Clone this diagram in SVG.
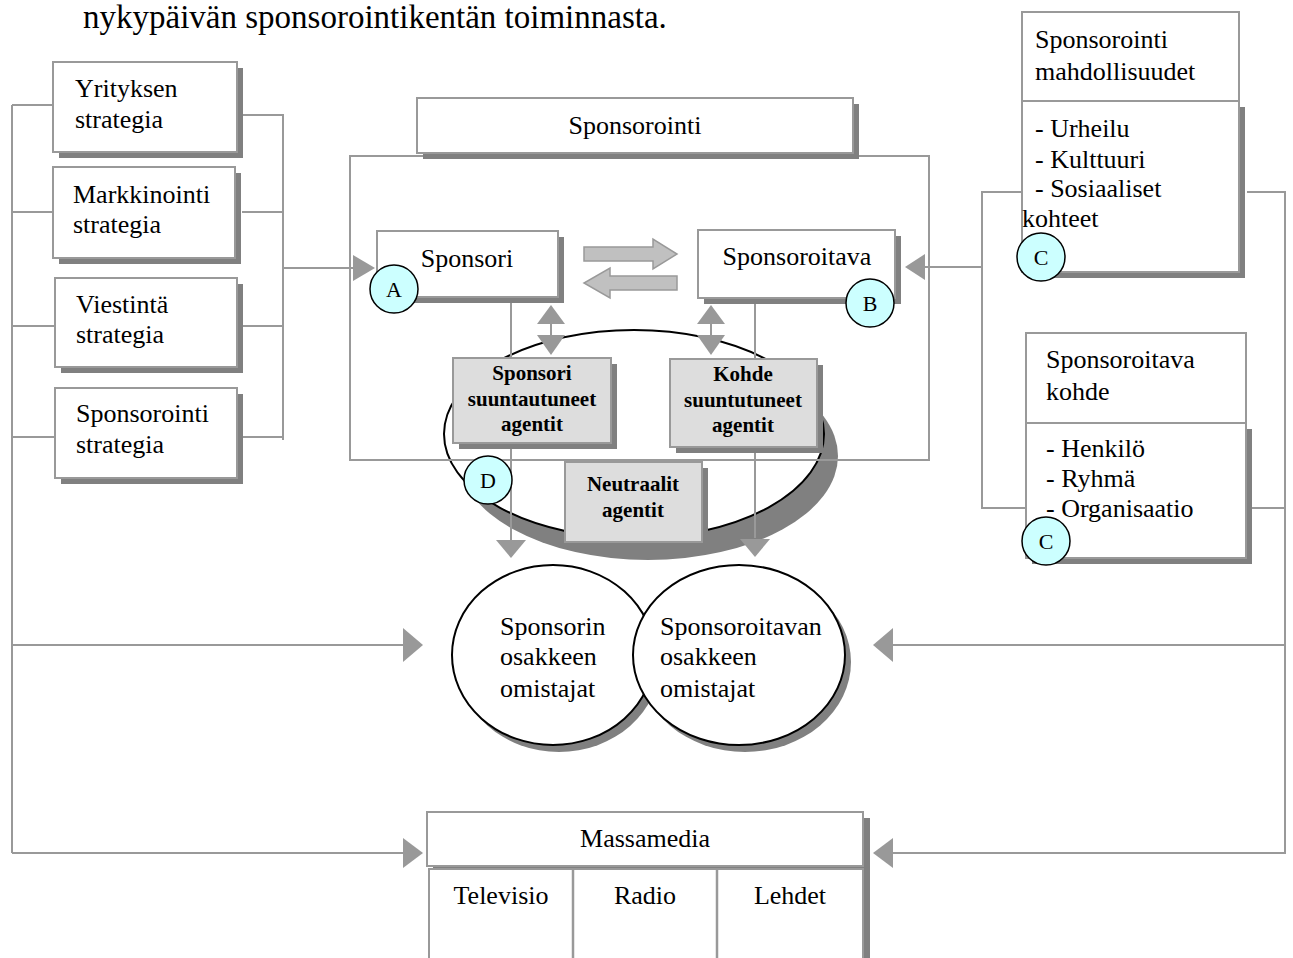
<svg xmlns="http://www.w3.org/2000/svg" width="1293" height="958" viewBox="0 0 1293 958">
<defs>
<style>
.t{font-family:"Liberation Serif","Times New Roman",serif;font-size:26px;fill:#000}
.m{text-anchor:middle}
.bd{font-family:"Liberation Serif","Times New Roman",serif;font-size:21px;font-weight:bold;text-anchor:middle;fill:#000}
.lt{font-family:"Liberation Serif","Times New Roman",serif;font-size:22px;text-anchor:middle;fill:#000}
.box{fill:#fff;stroke:#999;stroke-width:2}
.frame{fill:none;stroke:#999;stroke-width:2}
.sh{fill:#808080}
.ln{fill:none;stroke:#999;stroke-width:2}
.ah{fill:#999}
.blk{fill:#c0c0c0;stroke:#999;stroke-width:1.5}
.tag{fill:#ccffff;stroke:#000;stroke-width:1.5}
.agent{fill:#ddd;stroke:#999;stroke-width:2}
.ov{fill:#fff;stroke:#000;stroke-width:2}
.div{stroke:#999;stroke-width:2.5}
</style>
</defs>
<rect width="1293" height="958" fill="#fff"/>

<!-- running text above the figure -->
<text class="t" x="83" y="28" style="font-size:33px">nykypäivän sponsorointikentän toiminnasta.</text>

<!-- agents ellipse (drawn under the frame) -->
<g id="agents-ellipse">
  <ellipse class="sh" cx="648" cy="456" rx="190" ry="104"/>
  <ellipse class="ov" cx="634" cy="434" rx="190" ry="104"/>
</g>

<!-- Sponsorointi frame -->
<g id="sponsorointi">
  <rect class="frame" x="350" y="156" width="579" height="304"/>
  <rect class="sh" x="423" y="104" width="436" height="55"/>
  <rect class="box" x="417" y="98" width="436" height="55"/>
  <text class="t m" x="635" y="134">Sponsorointi</text>
</g>

<!-- connectors -->
<g id="connectors">
  <path class="ln" d="M12 105V853M12 105H53M12 212H53M12 326H55M12 437H55M12 645H403M12 853H403"/>
  <path class="ln" d="M242 115H283V440M242 212H283M242 326H283M242 437H283M283 268H353"/>
  <path class="ln" d="M1022 192H982V508H1026M982 267H925"/>
  <path class="ln" d="M1247 192H1285V853H893M1252 508H1285M1285 645H893"/>
  <path class="ln" d="M511 297V540M755 298V538M551 320V340M711 320V340"/>
  <polygon class="ah" points="353,255 375,268 353,281"/>
  <polygon class="ah" points="925,254 905,267 925,280"/>
  <polygon class="ah" points="403,628 423,645 403,662"/>
  <polygon class="ah" points="403,838 423,853 403,868"/>
  <polygon class="ah" points="893,628 873,645 893,662"/>
  <polygon class="ah" points="893,838 873,853 893,868"/>
  <polygon class="ah" points="496,540 526,540 511,558"/>
  <polygon class="ah" points="740,539 770,539 755,557"/>
  <polygon class="ah" points="537,324 565,324 551,305"/>
  <polygon class="ah" points="537,335 565,335 551,355"/>
  <polygon class="ah" points="697,324 725,324 711,305"/>
  <polygon class="ah" points="697,335 725,335 711,355"/>
  <polygon class="blk" points="584,247 653,247 653,239 677,254 653,269 653,261 584,261"/>
  <polygon class="blk" points="677,276 610,276 610,268 584,283 610,298 610,290 677,290"/>
</g>

<!-- strategy column -->
<g id="yrityksen-strategia">
  <rect class="sh" x="59" y="68" width="184" height="90"/>
  <rect class="box" x="53" y="62" width="184" height="90"/>
  <text class="t" x="75" y="97">Yrityksen</text>
  <text class="t" x="75" y="128">strategia</text>
</g>
<g id="markkinointi-strategia">
  <rect class="sh" x="59" y="173" width="182" height="91"/>
  <rect class="box" x="53" y="167" width="182" height="91"/>
  <text class="t" x="73" y="203">Markkinointi</text>
  <text class="t" x="73" y="233">strategia</text>
</g>
<g id="viestinta-strategia">
  <rect class="sh" x="61" y="284" width="182" height="89"/>
  <rect class="box" x="55" y="278" width="182" height="89"/>
  <text class="t" x="76" y="313">Viestintä</text>
  <text class="t" x="76" y="343">strategia</text>
</g>
<g id="sponsorointi-strategia">
  <rect class="sh" x="61" y="394" width="182" height="90"/>
  <rect class="box" x="55" y="388" width="182" height="90"/>
  <text class="t" x="76" y="422">Sponsorointi</text>
  <text class="t" x="76" y="453">strategia</text>
</g>

<!-- parties -->
<g id="sponsori">
  <rect class="sh" x="383" y="237" width="181" height="66"/>
  <rect class="box" x="377" y="231" width="181" height="66"/>
  <text class="t m" x="467" y="267">Sponsori</text>
</g>
<g id="sponsoroitava">
  <rect class="sh" x="704" y="236" width="197" height="68"/>
  <rect class="box" x="698" y="230" width="197" height="68"/>
  <text class="t m" x="797" y="265">Sponsoroitava</text>
</g>

<!-- agents -->
<g id="sponsori-agentit">
  <rect class="sh" x="459" y="364" width="158" height="85"/>
  <rect class="agent" x="453" y="358" width="158" height="85"/>
  <text class="bd" x="532" y="380">Sponsori</text>
  <text class="bd" x="532" y="406">suuntautuneet</text>
  <text class="bd" x="532" y="431">agentit</text>
</g>
<g id="kohde-agentit">
  <rect class="sh" x="676" y="365" width="147" height="88"/>
  <rect class="agent" x="670" y="359" width="147" height="88"/>
  <text class="bd" x="743" y="381">Kohde</text>
  <text class="bd" x="743" y="407">suuntutuneet</text>
  <text class="bd" x="743" y="432">agentit</text>
</g>
<g id="neutraalit-agentit">
  <rect class="sh" x="571" y="468" width="137" height="80"/>
  <rect class="agent" x="565" y="462" width="137" height="80"/>
  <text class="bd" x="633" y="491">Neutraalit</text>
  <text class="bd" x="633" y="517">agentit</text>
</g>

<!-- opportunities -->
<g id="sponsorointi-mahdollisuudet">
  <rect class="sh" x="1028" y="107" width="217" height="171"/>
  <rect class="box" x="1022" y="12" width="217" height="89"/>
  <rect class="box" x="1022" y="101" width="217" height="171"/>
  <text class="t" x="1035" y="48">Sponsorointi</text>
  <text class="t" x="1035" y="80">mahdollisuudet</text>
  <text class="t" x="1035" y="137">- Urheilu</text>
  <text class="t" x="1035" y="168">- Kulttuuri</text>
  <text class="t" x="1035" y="197">- Sosiaaliset</text>
  <text class="t" x="1022" y="227">kohteet</text>
</g>
<g id="sponsoroitava-kohde">
  <rect class="sh" x="1032" y="429" width="220" height="135"/>
  <rect class="box" x="1026" y="333" width="220" height="90"/>
  <rect class="box" x="1026" y="423" width="220" height="135"/>
  <text class="t" x="1046" y="368">Sponsoroitava</text>
  <text class="t" x="1046" y="400">kohde</text>
  <text class="t" x="1046" y="457">- Henkilö</text>
  <text class="t" x="1046" y="487">- Ryhmä</text>
  <text class="t" x="1046" y="517">- Organisaatio</text>
</g>

<!-- shareholders -->
<g id="sponsorin-omistajat">
  <ellipse class="sh" cx="559" cy="662" rx="101" ry="90"/>
  <ellipse class="ov" cx="553" cy="655" rx="101" ry="90"/>
  <text class="t" x="500" y="635">Sponsorin</text>
  <text class="t" x="500" y="665">osakkeen</text>
  <text class="t" x="500" y="697">omistajat</text>
</g>
<g id="sponsoroitavan-omistajat">
  <ellipse class="sh" cx="745" cy="662" rx="106" ry="90"/>
  <ellipse class="ov" cx="739" cy="655" rx="106" ry="90"/>
  <text class="t" x="660" y="635">Sponsoroitavan</text>
  <text class="t" x="660" y="665">osakkeen</text>
  <text class="t" x="660" y="697">omistajat</text>
</g>

<!-- mass media -->
<g id="massamedia">
  <rect class="sh" x="433" y="818" width="437" height="150"/>
  <rect class="box" x="427" y="812" width="436" height="54"/>
  <rect class="box" x="429" y="869" width="434" height="100"/>
  <line class="div" x1="573" y1="869" x2="573" y2="958"/>
  <line class="div" x1="717" y1="869" x2="717" y2="958"/>
  <text class="t m" x="645" y="847">Massamedia</text>
  <text class="t m" x="501" y="904">Televisio</text>
  <text class="t m" x="645" y="904">Radio</text>
  <text class="t m" x="790" y="904">Lehdet</text>
</g>

<!-- letter tags -->
<g id="tag-a"><circle class="tag" cx="394" cy="289" r="24"/><text class="lt" x="394" y="297">A</text></g>
<g id="tag-b"><circle class="tag" cx="870" cy="303" r="24"/><text class="lt" x="870" y="311">B</text></g>
<g id="tag-c1"><circle class="tag" cx="1041" cy="257" r="24"/><text class="lt" x="1041" y="265">C</text></g>
<g id="tag-c2"><circle class="tag" cx="1046" cy="541" r="24"/><text class="lt" x="1046" y="549">C</text></g>
<g id="tag-d"><circle class="tag" cx="488" cy="480" r="24"/><text class="lt" x="488" y="488">D</text></g>
</svg>
